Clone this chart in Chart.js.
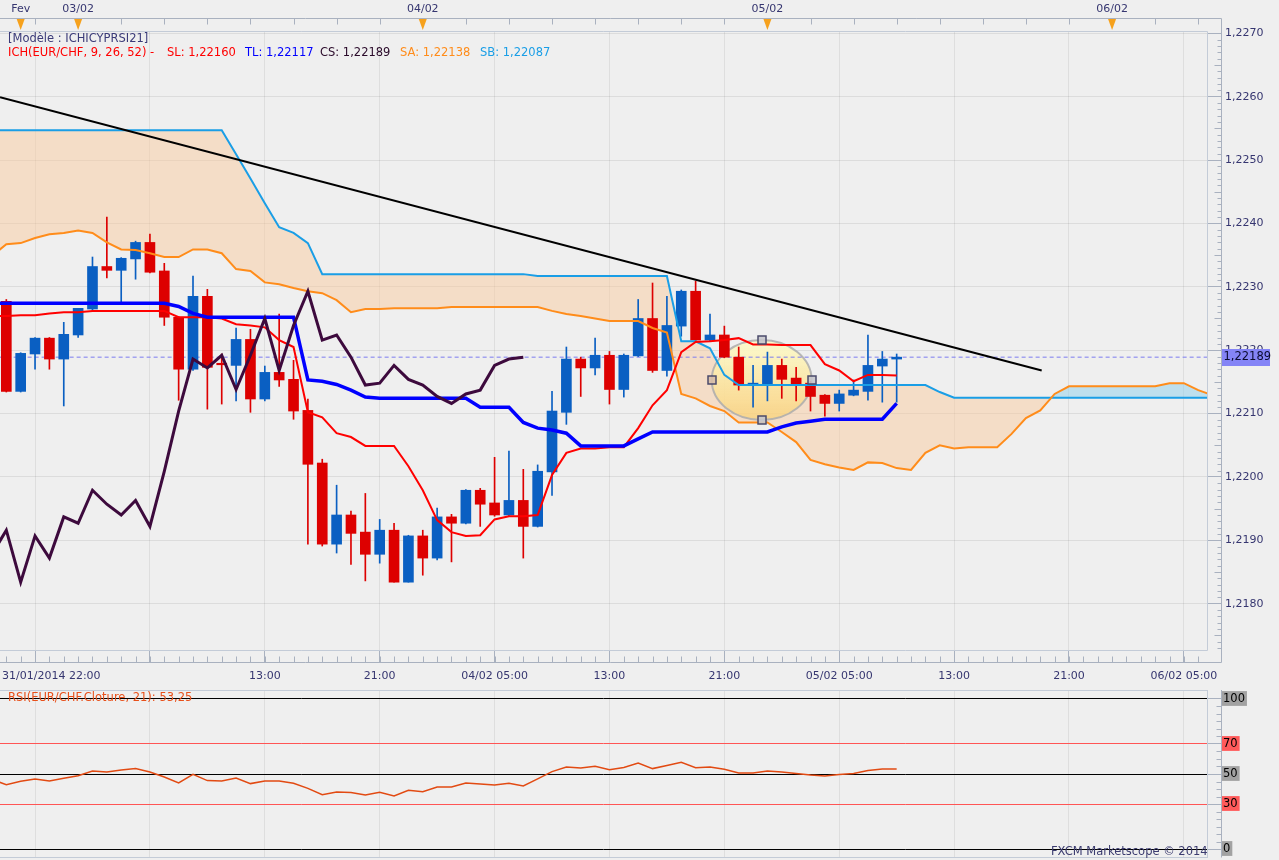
<!DOCTYPE html>
<html lang="fr">
<head>
    <meta charset="UTF-8">
    <meta name="viewport" content="width=device-width, initial-scale=1.0">
    <title>EUR/CHF - Ichimoku / RSI</title>
    <script src="https://cdn.jsdelivr.net/npm/chart.js"></script>
    <style>
        body {
            margin: 0;
            width: 1279px;
            height: 860px;
            overflow: hidden;
            position: relative;
            background: #efefef;
            font-family: "DejaVu Sans", sans-serif;
        }
        #mainBox { position: absolute; left: 0; top: 0; width: 1279px; height: 690px; }
        #rsiBox { position: absolute; left: 0; top: 690px; width: 1279px; height: 170px; }
        .lbl { position: absolute; font-size: 11.5px; line-height: 14px; white-space: nowrap; }
    </style>
</head>
<body>

<div id="mainBox"><canvas id="mainChart"></canvas></div>
<div id="rsiBox"><canvas id="rsiChart"></canvas></div>

<div class="lbl" style="left:8px; top:31px; color:#3a3a78;">[Modèle : ICHICYPRSI21]</div>
<div class="lbl" style="left:8px; top:45px; color:#ff0000;">ICH(EUR/CHF, 9, 26, 52) -</div>
<div class="lbl" style="left:167px; top:45px; color:#ff0000;">SL: 1,22160</div>
<div class="lbl" style="left:245px; top:45px; color:#0000ff;">TL: 1,22117</div>
<div class="lbl" style="left:320px; top:45px; color:#2a0a2a;">CS: 1,22189</div>
<div class="lbl" style="left:400px; top:45px; color:#ff8c1a;">SA: 1,22138</div>
<div class="lbl" style="left:480px; top:45px; color:#1a9ee6;">SB: 1,22087</div>
<div class="lbl" style="left:2px; top:669px; color:#363670; font-size:11px;">31/01/2014 22:00</div>
<div class="lbl" style="left:8px; top:690px; color:#e8501a;">RSI(EUR/CHF.Cloture, 21): 53,25</div>
<div class="lbl" style="left:1051px; top:844px; color:#3c3c70;">FXCM Marketscope © 2014</div>

<script>
    // one slot per hourly candle, slot 0 = first candle on screen
    const candleOpen = [
        1.22277, 1.22135, 1.22194, 1.22219, 1.22186, 1.22224, 1.22265, 1.22332, 1.22326, 1.22344,
        1.22370, 1.22325, 1.22252, 1.22170, 1.22285, 1.22179, 1.22176, 1.22217, 1.22123, 1.22165,
        1.22154, 1.22105, 1.22022, 1.21894, 1.21940, 1.21913, 1.21878, 1.21916, 1.21834, 1.21907,
        1.21872, 1.21937, 1.21927, 1.21979, 1.21959, 1.21940, 1.21963, 1.21922, 1.22008, 1.22102,
        1.22186, 1.22172, 1.22192, 1.22138, 1.22191, 1.22250, 1.22168, 1.22238, 1.22293, 1.22216,
        1.22224, 1.22189, 1.22145, 1.22146, 1.22176, 1.22156, 1.22148, 1.22129, 1.22116, 1.22129,
        1.22135, 1.22175, 1.22186
    ];
    const candleHigh = [
        1.22280, 1.22196, 1.22220, 1.22220, 1.22244, 1.22266, 1.22347, 1.22410, 1.22346, 1.22372,
        1.22383, 1.22337, 1.22253, 1.22317, 1.22296, 1.22194, 1.22235, 1.22233, 1.22175, 1.22257,
        1.22184, 1.22123, 1.22028, 1.21987, 1.21946, 1.21974, 1.21933, 1.21927, 1.21908, 1.21916,
        1.21951, 1.21941, 1.21980, 1.21982, 1.22031, 1.22041, 1.22012, 1.22019, 1.22135, 1.22205,
        1.22189, 1.22219, 1.22198, 1.22194, 1.22280, 1.22306, 1.22285, 1.22295, 1.22309, 1.22257,
        1.22238, 1.22205, 1.22176, 1.22197, 1.22186, 1.22173, 1.22151, 1.22130, 1.22137, 1.22153,
        1.22224, 1.22198, 1.22194
    ];
    const candleLow = [
        1.22134, 1.22134, 1.22170, 1.22170, 1.22112, 1.22220, 1.22263, 1.22314, 1.22276, 1.22312,
        1.22322, 1.22239, 1.22121, 1.22168, 1.22107, 1.22115, 1.22120, 1.22102, 1.22120, 1.22143,
        1.22091, 1.21894, 1.21891, 1.21880, 1.21862, 1.21836, 1.21864, 1.21834, 1.21834, 1.21845,
        1.21869, 1.21866, 1.21926, 1.21922, 1.21938, 1.21939, 1.21872, 1.21921, 1.21971, 1.22083,
        1.22127, 1.22161, 1.22115, 1.22126, 1.22190, 1.22165, 1.22159, 1.22222, 1.22215, 1.22215,
        1.22188, 1.22137, 1.22110, 1.22120, 1.22124, 1.22120, 1.22104, 1.22096, 1.22104, 1.22128,
        1.22121, 1.22118, 1.22118
    ];
    const candleClose = [
        1.22135, 1.22195, 1.22219, 1.22186, 1.22225, 1.22266, 1.22332, 1.22326, 1.22345, 1.22370,
        1.22323, 1.22252, 1.22170, 1.22285, 1.22173, 1.22177, 1.22217, 1.22123, 1.22165, 1.22153,
        1.22104, 1.22020, 1.21894, 1.21940, 1.21911, 1.21878, 1.21916, 1.21834, 1.21907, 1.21872,
        1.21937, 1.21927, 1.21979, 1.21957, 1.21940, 1.21963, 1.21922, 1.22009, 1.22104, 1.22186,
        1.22172, 1.22192, 1.22138, 1.22192, 1.22250, 1.22168, 1.22239, 1.22293, 1.22216, 1.22224,
        1.22189, 1.22145, 1.22148, 1.22176, 1.22154, 1.22145, 1.22127, 1.22116, 1.22131, 1.22137,
        1.22176, 1.22186, 1.22189
    ];

    // indicator lines start one slot before the first candle (just off the left edge)
    const lineStart = -1;
    const kijunSL = [
        1.22254, 1.22254, 1.22255, 1.22255, 1.22258, 1.22260, 1.22260, 1.22262, 1.22262, 1.22262,
        1.22262, 1.22262, 1.22262, 1.22252, 1.22252, 1.22252, 1.22250, 1.22241, 1.22239, 1.22236,
        1.22216, 1.22205, 1.22102, 1.22094, 1.22069, 1.22063, 1.22049, 1.22049, 1.22049, 1.22017,
        1.21979, 1.21932, 1.21913, 1.21907, 1.21908, 1.21933, 1.21938, 1.21938, 1.21940, 1.22003,
        1.22038, 1.22045, 1.22045, 1.22047, 1.22047, 1.22077, 1.22113, 1.22137, 1.22197, 1.22213,
        1.22214, 1.22216, 1.22219, 1.22209, 1.22209, 1.22208, 1.22208, 1.22208, 1.22178, 1.22168,
        1.22151, 1.22161, 1.22161, 1.22160
    ];
    const tenkanTL = [
        1.22274, 1.22274, 1.22274, 1.22274, 1.22274, 1.22274, 1.22274, 1.22274, 1.22274, 1.22274,
        1.22274, 1.22274, 1.22274, 1.22269, 1.22258, 1.22252, 1.22252, 1.22252, 1.22252, 1.22252,
        1.22252, 1.22252, 1.22153, 1.22151, 1.22146, 1.22137, 1.22126, 1.22124, 1.22124, 1.22124,
        1.22124, 1.22124, 1.22124, 1.22124, 1.22110, 1.22110, 1.22110, 1.22086, 1.22077, 1.22074,
        1.22069, 1.22049, 1.22049, 1.22049, 1.22049, 1.22060, 1.22071, 1.22071, 1.22071, 1.22071,
        1.22071, 1.22071, 1.22071, 1.22071, 1.22071, 1.22079, 1.22085, 1.22088, 1.22091, 1.22091,
        1.22091, 1.22091, 1.22091, 1.22116
    ];
    const chikouCS = [
        1.21878, 1.21916, 1.21834, 1.21907, 1.21872, 1.21937, 1.21927, 1.21979, 1.21957, 1.21940,
        1.21963, 1.21922, 1.22009, 1.22104, 1.22186, 1.22172, 1.22192, 1.22138, 1.22192, 1.22250,
        1.22168, 1.22239, 1.22293, 1.22216, 1.22224, 1.22189, 1.22145, 1.22148, 1.22176, 1.22154,
        1.22145, 1.22127, 1.22116, 1.22131, 1.22137, 1.22176, 1.22186, 1.22189
    ];
    const senkouA = [
        1.22349, 1.22367, 1.22369, 1.22377, 1.22383, 1.22385, 1.22389, 1.22385, 1.22370, 1.22359,
        1.22358, 1.22353, 1.22347, 1.22347, 1.22359, 1.22359, 1.22353, 1.22328, 1.22325, 1.22307,
        1.22304, 1.22298, 1.22293, 1.22290, 1.22279, 1.22260, 1.22265, 1.22265, 1.22266, 1.22266,
        1.22266, 1.22266, 1.22268, 1.22268, 1.22268, 1.22268, 1.22268, 1.22268, 1.22268, 1.22262,
        1.22257, 1.22254, 1.22250, 1.22246, 1.22246, 1.22246, 1.22235, 1.22228, 1.22131, 1.22124,
        1.22112, 1.22104, 1.22086, 1.22086, 1.22086, 1.22071, 1.22055, 1.22027, 1.22020, 1.22015,
        1.22011, 1.22023, 1.22022, 1.22014, 1.22011, 1.22038, 1.22050, 1.22045, 1.22047, 1.22047,
        1.22047, 1.22068, 1.22093, 1.22105, 1.22131, 1.22143, 1.22143, 1.22143, 1.22143, 1.22143,
        1.22143, 1.22143, 1.22148, 1.22148, 1.22137, 1.22129
    ];
    const senkouB = [
        1.22547, 1.22547, 1.22547, 1.22547, 1.22547, 1.22547, 1.22547, 1.22547, 1.22547, 1.22547,
        1.22547, 1.22547, 1.22547, 1.22547, 1.22547, 1.22547, 1.22547, 1.22509, 1.22471, 1.22432,
        1.22394, 1.22385, 1.22369, 1.22320, 1.22320, 1.22320, 1.22320, 1.22320, 1.22320, 1.22320,
        1.22320, 1.22320, 1.22320, 1.22320, 1.22320, 1.22320, 1.22320, 1.22320, 1.22317, 1.22317,
        1.22317, 1.22317, 1.22317, 1.22317, 1.22317, 1.22317, 1.22317, 1.22317, 1.22214, 1.22214,
        1.22203, 1.22161, 1.22145, 1.22145, 1.22145, 1.22145, 1.22145, 1.22145, 1.22145, 1.22145,
        1.22145, 1.22145, 1.22145, 1.22145, 1.22145, 1.22145, 1.22134, 1.22125, 1.22125, 1.22125,
        1.22125, 1.22125, 1.22125, 1.22125, 1.22125, 1.22125, 1.22125, 1.22125, 1.22125, 1.22125,
        1.22125, 1.22125, 1.22125, 1.22125, 1.22125, 1.22125
    ];
    const rsi21 = [
        46.4, 42.9, 45.1, 46.7, 45.3, 47.1, 48.9, 52.0, 51.3, 52.7,
        53.6, 51.3, 48.0, 44.0, 49.8, 45.6, 45.3, 47.3, 43.6, 45.3,
        45.3, 43.8, 40.4, 36.2, 38.0, 37.6, 36.0, 37.8, 35.3, 39.1,
        38.2, 41.3, 41.3, 44.0, 43.3, 42.7, 43.8, 42.0, 46.7, 51.6,
        54.7, 54.0, 55.1, 52.9, 54.4, 57.3, 53.6, 55.6, 57.8, 54.2,
        54.7, 53.1, 50.7, 50.7, 52.0, 51.3, 50.4, 49.3, 48.7, 49.6,
        50.4, 52.4, 53.3, 53.25
    ];

    // hand drawn trend line [slot, price] and highlight ellipse
    const trendLine = [[-0.44, 1.22599], [72.1, 1.22168]];
    const highlight = { slot: 52.6, price: 1.22153, slotRadius: 3.48, priceRadius: 0.00063 };

    const bottomTickSlots = [2, 10, 18, 26, 34, 42, 50, 58, 66, 74, 82];
    const bottomTickLabels = ['', '', '13:00', '21:00', '04/02 05:00', '13:00', '21:00', '05/02 05:00', '13:00', '21:00', '06/02 05:00'];
    const topTickSlots = [1, 5, 29, 53, 77];
    const topTickLabels = ['Fev', '03/02', '04/02', '05/02', '06/02'];
    const priceTicks = [1.2180, 1.2190, 1.2200, 1.2210, 1.2220, 1.2230, 1.2240, 1.2250, 1.2260, 1.2270];
    const rsiTicks = [0, 30, 50, 70, 100];

    // visible window
    const slotMin = -0.44, slotMax = 83.61;
    const priceMin = 1.21727, priceMax = 1.22702;
    const rsiMin = -5.33, rsiMax = 105.33;

    const upColor = '#0a5fc2', downColor = '#dd0000';
    const axisText = '#363670', stripColor = '#a9b1bf', frameColor = '#c3cbd7';
    const lastClose = candleClose[candleClose.length - 1];

    Chart.defaults.font.family = '"DejaVu Sans", sans-serif';
    Chart.defaults.font.size = 11;
    Chart.defaults.color = axisText;

    function toPoints(values, start) {
        return values.map((v, k) => ({ x: start + k, y: v }));
    }

    function fixSize(size) {
        return s => {
            if (s.isHorizontal()) s.height = size; else s.width = size;
            s.paddingLeft = s.paddingRight = s.paddingTop = s.paddingBottom = 0;
        };
    }

    function ellipseBox(x, y) {
        const cx = x.getPixelForValue(highlight.slot);
        const cy = y.getPixelForValue(highlight.price);
        return {
            cx, cy,
            rx: x.getPixelForValue(highlight.slot + highlight.slotRadius) - cx,
            ry: cy - y.getPixelForValue(highlight.price + highlight.priceRadius)
        };
    }

    const bodyColors = candleOpen.map((o, i) => candleClose[i] >= o ? upColor : downColor);

    const mainDecor = {
        id: 'mainDecor',
        beforeDatasetsDraw(chart) {
            const { ctx, scales: { x, y } } = chart;
            const e = ellipseBox(x, y);
            ctx.save();
            const g = ctx.createLinearGradient(0, e.cy - e.ry, 0, e.cy + e.ry);
            g.addColorStop(0, 'rgba(252, 251, 204, 0.95)');
            g.addColorStop(1, 'rgba(250, 210, 120, 0.75)');
            ctx.beginPath();
            ctx.ellipse(e.cx, e.cy, e.rx, e.ry, 0, 0, Math.PI * 2);
            ctx.fillStyle = g;
            ctx.fill();
            ctx.lineWidth = 2;
            ctx.strokeStyle = 'rgba(172, 172, 172, 0.85)';
            ctx.stroke();
            ctx.restore();
        },
        afterDatasetsDraw(chart) {
            const { ctx, scales: { x, y } } = chart;
            const e = ellipseBox(x, y);
            const handles = [[e.cx, e.cy - e.ry], [e.cx, e.cy + e.ry], [e.cx - e.rx, e.cy], [e.cx + e.rx, e.cy]];
            ctx.save();
            ctx.lineWidth = 1.5;
            ctx.strokeStyle = '#4b4b6b';
            handles.forEach(([px, py], k) => {
                ctx.fillStyle = k === 2 ? 'rgba(214, 190, 168, 0.9)' : 'rgba(198, 198, 204, 0.9)';
                ctx.fillRect(Math.round(px) - 4, Math.round(py) - 4, 8, 8);
                ctx.strokeRect(Math.round(px) - 4, Math.round(py) - 4, 8, 8);
            });
            ctx.restore();
        },
        afterDraw(chart) {
            const { ctx, chartArea: a, scales: { x, y } } = chart;
            const axisX = Math.round(a.right) + 14.5;
            const topStrip = Math.round(a.top) - 13.5;
            const botStrip = Math.round(a.bottom) + 12.5;
            ctx.save();
            ctx.lineWidth = 1;

            // plot frame
            ctx.strokeStyle = frameColor;
            ctx.beginPath();
            ctx.moveTo(a.left, Math.round(a.top) - 0.5);
            ctx.lineTo(Math.round(a.right) + 0.5, Math.round(a.top) - 0.5);
            ctx.lineTo(Math.round(a.right) + 0.5, Math.round(a.bottom) + 0.5);
            ctx.lineTo(a.left, Math.round(a.bottom) + 0.5);
            ctx.stroke();

            // time strips and price axis line
            ctx.strokeStyle = stripColor;
            ctx.beginPath();
            ctx.moveTo(0, topStrip); ctx.lineTo(axisX, topStrip);
            ctx.moveTo(0, botStrip); ctx.lineTo(axisX, botStrip);
            ctx.moveTo(axisX, topStrip); ctx.lineTo(axisX, botStrip);
            for (let s = 2; s <= Math.floor(slotMax); s += 3) {
                const px = Math.round(x.getPixelForValue(s)) + 0.5;
                ctx.moveTo(px, topStrip); ctx.lineTo(px, topStrip + 6);
            }
            for (let s = 0; s <= Math.floor(slotMax); s++) {
                const px = Math.round(x.getPixelForValue(s)) + 0.5;
                ctx.moveTo(px, botStrip - 6); ctx.lineTo(px, botStrip);
            }
            for (let k = 12173; k <= 12270; k++) {
                if (k % 10 === 0) continue;
                const py = Math.round(y.getPixelForValue(k / 10000)) + 0.5;
                const len = k % 5 === 0 ? 7 : 4;
                ctx.moveTo(axisX - len, py); ctx.lineTo(axisX, py);
            }
            ctx.stroke();

            // day markers
            ctx.fillStyle = '#f6a11c';
            topTickSlots.forEach(s => {
                const px = x.getPixelForValue(s);
                ctx.beginPath();
                ctx.moveTo(px - 4, topStrip + 0.5);
                ctx.lineTo(px + 4, topStrip + 0.5);
                ctx.lineTo(px, topStrip + 11.5);
                ctx.closePath();
                ctx.fill();
            });

            // last price tag
            const py = y.getPixelForValue(lastClose);
            ctx.fillStyle = '#8484f6';
            ctx.fillRect(axisX + 0.5, Math.round(py) - 8, 48, 17);
            ctx.fillStyle = '#0b0b30';
            ctx.font = '11.5px "DejaVu Sans"';
            ctx.textBaseline = 'middle';
            ctx.fillText(lastClose.toFixed(5).replace('.', ','), axisX + 2, Math.round(py) + 0.5);
            ctx.restore();
        }
    };

    const rsiDecor = {
        id: 'rsiDecor',
        afterDraw(chart) {
            const { ctx, chartArea: a, scales: { y } } = chart;
            const axisX = Math.round(a.right) + 14.5;
            ctx.save();
            ctx.lineWidth = 1;
            ctx.strokeStyle = frameColor;
            ctx.strokeRect(a.left - 0.5, Math.round(a.top) - 0.5, Math.round(a.right) - a.left + 1, Math.round(a.bottom - a.top) + 1);
            ctx.strokeStyle = stripColor;
            ctx.beginPath();
            ctx.moveTo(axisX, 0); ctx.lineTo(axisX, Math.round(a.bottom) + 0.5);
            for (let v = 5; v < 100; v += 5) {
                if (rsiTicks.includes(v)) continue;
                const py = Math.round(y.getPixelForValue(v)) + 0.5;
                ctx.moveTo(axisX - 5, py); ctx.lineTo(axisX, py);
            }
            ctx.stroke();
            ctx.restore();
        }
    };

    new Chart(document.getElementById('mainChart'), {
        type: 'line',
        data: {
            datasets: [
                {
                    label: 'Trend', data: trendLine.map(([s, p]) => ({ x: s, y: p })),
                    borderColor: '#000000', borderWidth: 2, pointRadius: 0
                },
                {
                    label: 'CS', data: toPoints(chikouCS, lineStart),
                    borderColor: '#3d0a3d', borderWidth: 3, pointRadius: 0
                },
                {
                    label: 'TL', data: toPoints(tenkanTL, lineStart),
                    borderColor: '#0000ff', borderWidth: 3.5, pointRadius: 0
                },
                {
                    label: 'SL', data: toPoints(kijunSL, lineStart),
                    borderColor: '#ff0000', borderWidth: 2, pointRadius: 0
                },
                {
                    label: 'SA', data: toPoints(senkouA, lineStart),
                    borderColor: '#ff8c1a', borderWidth: 2, pointRadius: 0,
                    fill: { target: 5, above: 'rgba(150, 210, 235, 0.55)', below: 'rgba(250, 200, 150, 0.45)' }
                },
                {
                    label: 'SB', data: toPoints(senkouB, lineStart),
                    borderColor: '#1a9ee6', borderWidth: 2, pointRadius: 0
                },
                {
                    type: 'bar', label: 'Body',
                    data: candleOpen.map((o, i) => ({ x: i, y: [o, candleClose[i]] })),
                    backgroundColor: bodyColors, grouped: false,
                    barThickness: 10, maxBarThickness: 10, minBarLength: 1.5
                },
                {
                    type: 'bar', label: 'Wick',
                    data: candleLow.map((l, i) => ({ x: i, y: [l, candleHigh[i]] })),
                    backgroundColor: bodyColors, grouped: false,
                    barThickness: 1, maxBarThickness: 1
                },
                {
                    label: 'Last', data: [{ x: slotMin - 1, y: lastClose }, { x: slotMax + 1, y: lastClose }],
                    borderColor: '#7b7bef', borderWidth: 1, borderDash: [4, 3], pointRadius: 0
                }
            ]
        },
        options: {
            responsive: true,
            maintainAspectRatio: false,
            animation: false,
            events: [],
            layout: { padding: 0 },
            elements: { line: { tension: 0 } },
            plugins: {
                legend: { display: false },
                tooltip: { enabled: false },
                filler: { drawTime: 'beforeDatasetsDraw' }
            },
            scales: {
                x: {
                    type: 'linear', position: 'bottom', min: slotMin, max: slotMax, offset: false,
                    afterBuildTicks: s => { s.ticks = bottomTickSlots.map(v => ({ value: v })); },
                    afterFit: fixSize(40),
                    ticks: { autoSkip: false, maxRotation: 0, padding: 8, callback: (v, k) => bottomTickLabels[k] },
                    grid: { color: 'rgba(0, 0, 0, 0.07)', offset: false, drawTicks: true, tickLength: 12, tickColor: stripColor },
                    border: { display: false }
                },
                xTop: {
                    type: 'linear', position: 'top', min: slotMin, max: slotMax, offset: false,
                    afterBuildTicks: s => { s.ticks = topTickSlots.map(v => ({ value: v })); },
                    afterFit: fixSize(32),
                    ticks: { autoSkip: false, maxRotation: 0, padding: 4, callback: (v, k) => topTickLabels[k] },
                    grid: { drawOnChartArea: false, drawTicks: true, tickLength: 12, tickColor: 'rgba(0, 0, 0, 0)' },
                    border: { display: false }
                },
                y: {
                    type: 'linear', position: 'right', min: priceMin, max: priceMax, beginAtZero: false,
                    afterBuildTicks: s => { s.ticks = priceTicks.map(v => ({ value: v })); },
                    afterFit: fixSize(72),
                    ticks: { padding: 4, callback: v => v.toFixed(4).replace('.', ',') },
                    grid: { color: 'rgba(0, 0, 0, 0.08)', tickLength: 14, tickColor: stripColor },
                    border: { display: false }
                }
            }
        },
        plugins: [mainDecor]
    });

    new Chart(document.getElementById('rsiChart'), {
        type: 'line',
        data: {
            datasets: [{
                label: 'RSI', data: toPoints(rsi21, lineStart),
                borderColor: '#e24a12', borderWidth: 1.5, pointRadius: 0, tension: 0
            }]
        },
        options: {
            responsive: true,
            maintainAspectRatio: false,
            animation: false,
            events: [],
            layout: { padding: { top: 1, bottom: 3, left: 0, right: 0 } },
            plugins: { legend: { display: false }, tooltip: { enabled: false } },
            scales: {
                x: {
                    type: 'linear', min: slotMin, max: slotMax, offset: false,
                    afterBuildTicks: s => { s.ticks = bottomTickSlots.map(v => ({ value: v })); },
                    afterFit: fixSize(0),
                    ticks: { display: false },
                    grid: { color: 'rgba(0, 0, 0, 0.07)', offset: false, drawTicks: false },
                    border: { display: false }
                },
                y: {
                    type: 'linear', position: 'right', min: rsiMin, max: rsiMax,
                    afterBuildTicks: s => { s.ticks = rsiTicks.map(v => ({ value: v })); },
                    afterFit: fixSize(72),
                    ticks: {
                        padding: 2, color: '#000000',
                        font: { size: 11.5 },
                        showLabelBackdrop: true,
                        backdropColor: ctx => (ctx.tick.value === 30 || ctx.tick.value === 70) ? '#ff5a5a' : '#a2a2a2',
                        backdropPadding: { left: 1, right: 2, top: 1, bottom: 0 },
                        callback: v => String(v)
                    },
                    grid: {
                        color: ctx => (ctx.tick.value === 30 || ctx.tick.value === 70) ? '#ff5555' : '#000000',
                        tickLength: 14, tickColor: stripColor
                    },
                    border: { display: false }
                }
            }
        },
        plugins: [rsiDecor]
    });
</script>

</body>
</html>
